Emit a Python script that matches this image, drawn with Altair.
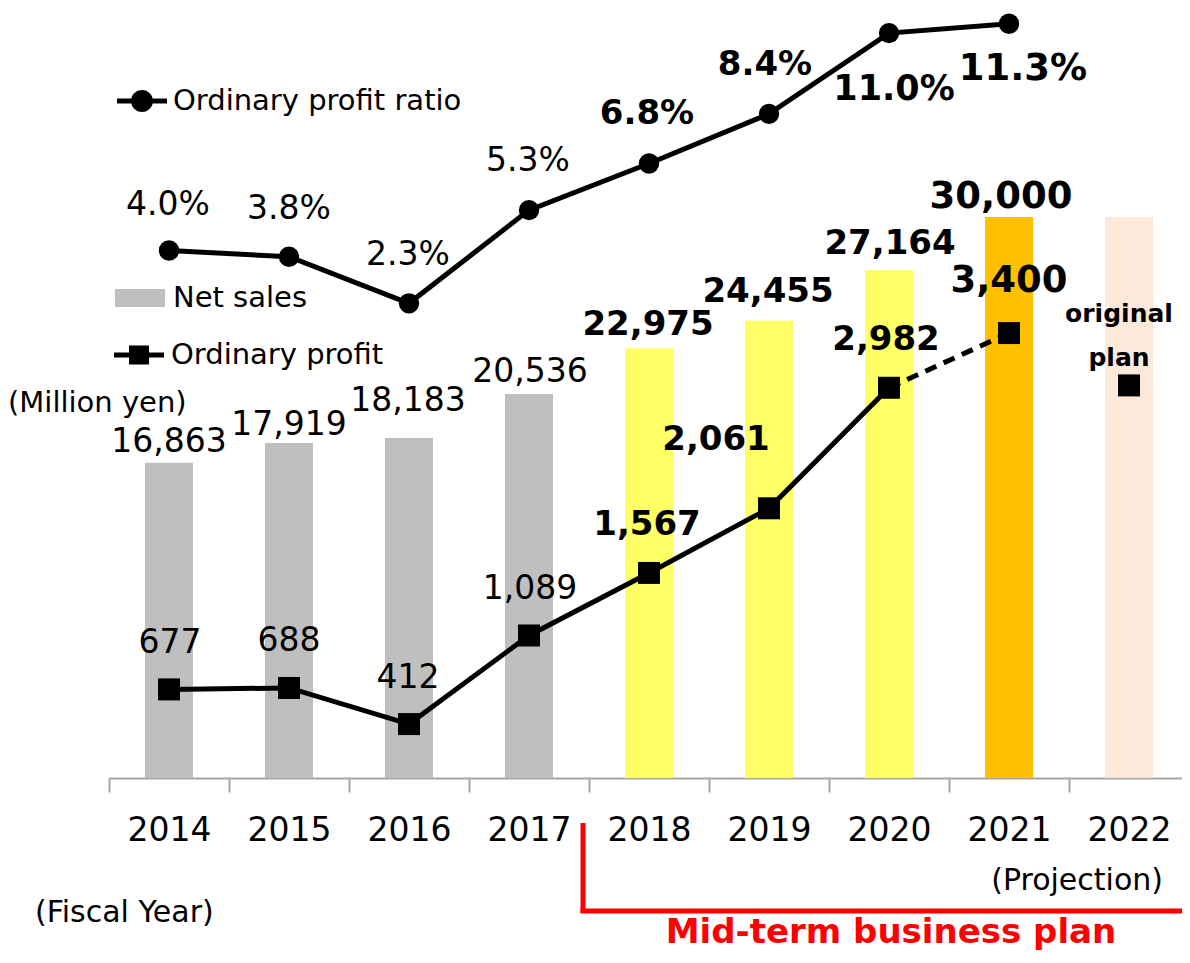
import altair as alt
import pandas as pd

# ---------------- data ----------------
years = ["2014", "2015", "2016", "2017", "2018", "2019", "2020", "2021", "2022"]
net_sales = [16863, 17919, 18183, 20536, 22975, 24455, 27164, 30000, 30000]
ordinary_profit = [677, 688, 412, 1089, 1567, 2061, 2982, 3400, 3000]
profit_ratio = [4.0, 3.8, 2.3, 5.3, 6.8, 8.4, 11.0, 11.3, None]
bar_phase = ["Net sales", "Net sales", "Net sales", "Net sales",
             "Mid-term plan", "Mid-term plan", "Mid-term plan",
             "Projection", "Original plan"]
phase_names = ["Net sales", "Mid-term plan", "Projection", "Original plan"]
profit_series = "Ordinary profit"
ratio_series = "Ordinary profit ratio"
unit_text = "(Million yen)"
fiscal_text = "(Fiscal Year)"
projection_text = "(Projection)"
plan_text = "Mid-term business plan"
original_plan_text = ["original", "plan"]

# ---------------- styles ----------------
FONT = "DejaVu Sans"
W, H = 1073, 770          # drawn area (page is 1190 wide incl. 8px margins)
XR = 1080                 # x range: 9 bands of 120px
phase_colors = ["#BFBFBF", "#FFFF66", "#FFC000", "#FDE9D9"]

df = pd.DataFrame({"year": years, "sales": net_sales, "profit": ordinary_profit,
                   "ratio": profit_ratio, "phase": bar_phase})
df["sales_label"] = [f"{v:,}" for v in net_sales]
df["profit_label"] = [f"{v:,}" for v in ordinary_profit]
df["ratio_label"] = ["" if v is None else f"{v:.1f}%" for v in profit_ratio]
df["pser"] = profit_series
df["rser"] = ratio_series

xs = alt.Scale(domain=years, range=[0, XR], paddingInner=0, paddingOuter=0)
xaxis = alt.Axis(labelFont=FONT, labelFontSize=33, labelColor="black", labelAngle=0,
                 tickBand="extent", tickSize=14, tickWidth=2, tickColor="#A6A6A6",
                 domainColor="#A6A6A6", domainWidth=2, labelPadding=22, grid=False,
                 labelOverlap=False)
X = alt.X("year:N", scale=xs, axis=xaxis, title=None)

ys_sales = alt.Scale(domain=[0, 41176], nice=False, zero=False)
ys_profit = alt.Scale(domain=[0, 5884], nice=False, zero=False)
ys_ratio = alt.Scale(domain=[-12.983, 11.808], nice=False, zero=False)

LEG = dict(orient="none", title=None, labelFont=FONT, labelFontSize=29,
           labelColor="black", symbolSize=2500, symbolStrokeWidth=0,
           padding=0, labelLimit=500)
PATH_LINE_CIRCLE = ("M-1,-0.1L1,-0.1L1,0.1L-1,0.1Z "
                    "M-0.44,0A0.44,0.44,0,1,1,0.44,0A0.44,0.44,0,1,1,-0.44,0Z")
PATH_LINE_SQUARE = ("M-1,-0.1L1,-0.1L1,0.1L-1,0.1Z "
                    "M-0.4,-0.38L0.4,-0.38L0.4,0.38L-0.4,0.38Z")
PATH_RECT = "M-1,-0.36L1,-0.36L1,0.36L-1,0.36Z"

layers = []

# bars
layers.append(
    alt.Chart(df).mark_bar(size=48, opacity=1).encode(
        x=X,
        y=alt.Y("sales:Q", scale=ys_sales, axis=None),
        fill=alt.Fill("phase:N", scale=alt.Scale(domain=phase_names, range=phase_colors),
                      legend=alt.Legend(values=["Net sales"], legendX=6, legendY=265,
                                        labelOffset=8, symbolType=PATH_RECT, **LEG)),
    )
)

# lines
layers.append(
    alt.Chart(df.iloc[0:7]).mark_line(color="black", strokeWidth=5).encode(
        x=X, y=alt.Y("profit:Q", scale=ys_profit, axis=None))
)
layers.append(
    alt.Chart(df.iloc[6:8]).mark_line(color="black", strokeWidth=5, strokeDash=[12, 8]).encode(
        x=X, y=alt.Y("profit:Q", scale=ys_profit, axis=None))
)
layers.append(
    alt.Chart(df.iloc[0:8]).mark_line(color="black", strokeWidth=5).encode(
        x=X, y=alt.Y("ratio:Q", scale=ys_ratio, axis=None))
)

# points
layers.append(
    alt.Chart(df).mark_point(shape="square", filled=True, size=484, opacity=1).encode(
        x=X, y=alt.Y("profit:Q", scale=ys_profit, axis=None),
        fill=alt.Fill("pser:N", scale=alt.Scale(domain=[profit_series], range=["black"]),
                      legend=alt.Legend(legendX=5, legendY=322, labelOffset=7,
                                        symbolType=PATH_LINE_SQUARE, **LEG)),
    )
)
layers.append(
    alt.Chart(df.iloc[0:8]).mark_point(shape="circle", filled=True, size=415, opacity=1).encode(
        x=X, y=alt.Y("ratio:Q", scale=ys_ratio, axis=None),
        fill=alt.Fill("rser:N", scale=alt.Scale(domain=[ratio_series], range=["black"]),
                      legend=alt.Legend(legendX=8, legendY=68, labelOffset=6,
                                        symbolType=PATH_LINE_CIRCLE, **LEG)),
    )
)

# value labels: (dx, dy, size, weight) per year
sales_style = {
    "2014": (0, -21, 33, "normal"), "2015": (0, -18, 33, "normal"),
    "2016": (-1, -37, 33, "normal"), "2017": (1, -22, 33, "normal"),
    "2018": (-1, -23, 34, "bold"), "2019": (-1, -29, 34, "bold"),
    "2020": (1, -26, 34, "bold"), "2021": (-8, -20, 37, "bold"),
}
ratio_style = {
    "2014": (-1, -46, 33, "normal"), "2015": (0, -48, 33, "normal"),
    "2016": (-1, -48, 33, "normal"), "2017": (-1, -49, 33, "normal"),
    "2018": (-2, -50, 34, "bold"), "2019": (-4, -49, 34, "bold"),
    "2020": (5, 56, 35, "bold"), "2021": (14, 45, 37, "bold"),
}
profit_style = {
    "2014": (1, -46, 33, "normal"), "2015": (0, -47, 33, "normal"),
    "2016": (-1, -46, 33, "normal"), "2017": (1, -46, 33, "normal"),
    "2018": (-2, -48, 34, "bold"), "2019": (-53, -68, 34, "bold"),
    "2020": (-3, -48, 34, "bold"), "2021": (0, -52, 37, "bold"),
}


def label_layers(style, field, yscale):
    out = []
    for yr, (dx, dy, size, weight) in style.items():
        sub = df[df["year"] == yr]
        out.append(
            alt.Chart(sub).mark_text(dx=dx, dy=dy, fontSize=size, fontWeight=weight,
                                     font=FONT, color="black").encode(
                x=X, y=alt.Y(f"{field}:Q", scale=yscale, axis=None),
                text=f"{field}_label:N")
        )
    return out


layers += label_layers(sales_style, "sales", ys_sales)
layers += label_layers(ratio_style, "ratio", ys_ratio)
layers += label_layers(profit_style, "profit", ys_profit)

# "original plan" note on the 2022 point
last = df[df["year"] == "2022"]
for txt, dy in zip(original_plan_text, [-71, -27]):
    layers.append(
        alt.Chart(last).mark_text(dx=-10, dy=dy, fontSize=25, fontWeight="bold",
                                  font=FONT, color="black").encode(
            x=X, y=alt.Y("profit:Q", scale=ys_profit, axis=None), text=alt.value(txt))
    )


def note(txt, x, y, size, align="left", weight="normal", color="black"):
    return alt.Chart(pd.DataFrame({"t": [txt]})).mark_text(
        align=align, baseline="middle", fontSize=size, fontWeight=weight,
        font=FONT, color=color).encode(x=alt.value(x), y=alt.value(y), text="t:N")


layers.append(note(unit_text, -101, 395, 29))
layers.append(note(fiscal_text, -74, 905, 30))
layers.append(note(projection_text, 1054, 873, 30, align="right"))
layers.append(note(plan_text, 782, 925, 34, align="center", weight="bold", color="#FF0000"))

one = pd.DataFrame({"a": [0]})
layers.append(alt.Chart(one).mark_rule(color="#FF0000", strokeWidth=5).encode(
    x=alt.value(474), y=alt.value(815), y2=alt.value(905)))
layers.append(alt.Chart(one).mark_rule(color="#FF0000", strokeWidth=5).encode(
    x=alt.value(471.5), x2=alt.value(1085), y=alt.value(903)))

chart = alt.layer(*layers).resolve_scale(y="independent", fill="independent").properties(
    width=W, height=H,
    autosize=alt.AutoSizeParams(type="none"),
    padding={"left": 101, "top": 0, "right": 0, "bottom": 174},
).configure_view(stroke=None)

chart.save("out.html", embed_options={"renderer": "svg", "actions": False})
